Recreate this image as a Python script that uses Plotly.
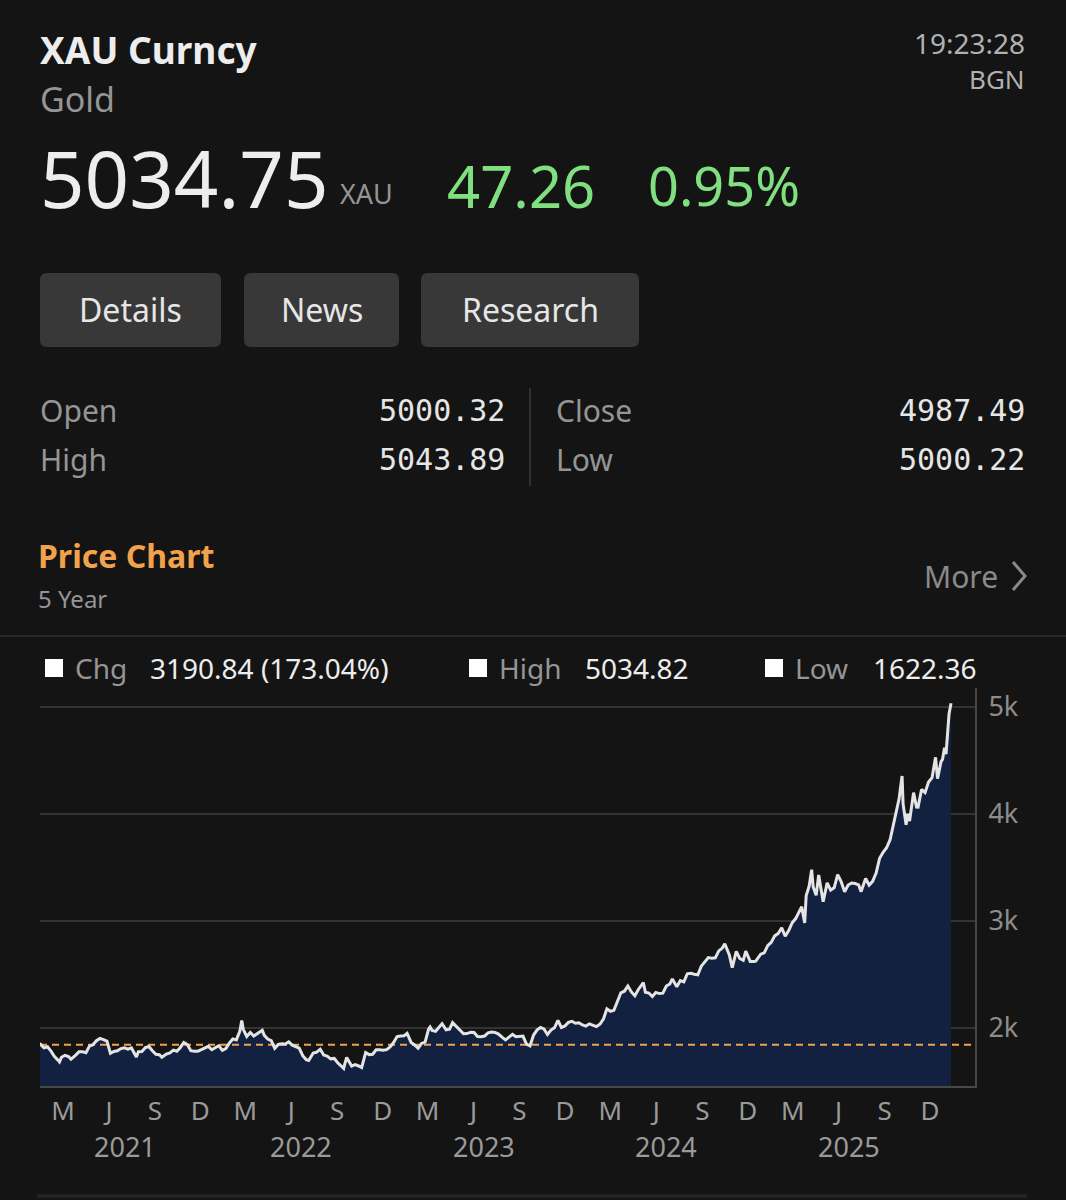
import plotly.graph_objects as go

# ---------------- data ----------------
dates = [
    "2021-01-27", "2021-01-29", "2021-02-05", "2021-02-12", "2021-02-19", "2021-02-26", "2021-03-05", "2021-03-08",
    "2021-03-12", "2021-03-19", "2021-03-26", "2021-03-31", "2021-04-09", "2021-04-16", "2021-04-23", "2021-04-30",
    "2021-05-07", "2021-05-14", "2021-05-21", "2021-05-28", "2021-06-04", "2021-06-11", "2021-06-18", "2021-06-25",
    "2021-07-02", "2021-07-09", "2021-07-16", "2021-07-23", "2021-07-30", "2021-08-06", "2021-08-09", "2021-08-13",
    "2021-08-20", "2021-08-27", "2021-09-03", "2021-09-10", "2021-09-17", "2021-09-24", "2021-09-29", "2021-10-08",
    "2021-10-15", "2021-10-22", "2021-10-29", "2021-11-05", "2021-11-12", "2021-11-19", "2021-11-26", "2021-12-03",
    "2021-12-10", "2021-12-17", "2021-12-24", "2021-12-31",
    "2022-01-07", "2022-01-14", "2022-01-21", "2022-01-28", "2022-02-04", "2022-02-11", "2022-02-18", "2022-02-25",
    "2022-03-04", "2022-03-08", "2022-03-11", "2022-03-18", "2022-03-25", "2022-04-01", "2022-04-08", "2022-04-18",
    "2022-04-22", "2022-04-29", "2022-05-06", "2022-05-13", "2022-05-20", "2022-05-27", "2022-06-03", "2022-06-10",
    "2022-06-17", "2022-06-24", "2022-07-01", "2022-07-08", "2022-07-15", "2022-07-20", "2022-07-29", "2022-08-05",
    "2022-08-12", "2022-08-19", "2022-08-26", "2022-09-02", "2022-09-09", "2022-09-16", "2022-09-23", "2022-09-28",
    "2022-09-30", "2022-10-04", "2022-10-14", "2022-10-21", "2022-10-28", "2022-11-03", "2022-11-11", "2022-11-18",
    "2022-11-25", "2022-12-02", "2022-12-09", "2022-12-16", "2022-12-23", "2022-12-30",
    "2023-01-06", "2023-01-13", "2023-01-20", "2023-01-27", "2023-02-02", "2023-02-10", "2023-02-17", "2023-02-24",
    "2023-03-03", "2023-03-10", "2023-03-17", "2023-03-20", "2023-03-24", "2023-03-31", "2023-04-07", "2023-04-13",
    "2023-04-21", "2023-04-28", "2023-05-04", "2023-05-12", "2023-05-19", "2023-05-26", "2023-06-02", "2023-06-09",
    "2023-06-16", "2023-06-23", "2023-06-30", "2023-07-07", "2023-07-14", "2023-07-21", "2023-07-28", "2023-08-04",
    "2023-08-11", "2023-08-18", "2023-08-25", "2023-09-01", "2023-09-08", "2023-09-15", "2023-09-22", "2023-09-29",
    "2023-10-06", "2023-10-13", "2023-10-20", "2023-10-27", "2023-11-03", "2023-11-10", "2023-11-17", "2023-11-24",
    "2023-12-01", "2023-12-08", "2023-12-15", "2023-12-22", "2023-12-29",
    "2024-01-05", "2024-01-12", "2024-01-19", "2024-01-26", "2024-02-02", "2024-02-09", "2024-02-16", "2024-02-23",
    "2024-03-01", "2024-03-08", "2024-03-15", "2024-03-22", "2024-03-28", "2024-04-05", "2024-04-12", "2024-04-19",
    "2024-04-26", "2024-05-03", "2024-05-10", "2024-05-20", "2024-05-24", "2024-05-31", "2024-06-07", "2024-06-14",
    "2024-06-21", "2024-06-28", "2024-07-05", "2024-07-12", "2024-07-17", "2024-07-26", "2024-08-02", "2024-08-09",
    "2024-08-16", "2024-08-23", "2024-08-30", "2024-09-06", "2024-09-13", "2024-09-20", "2024-09-27", "2024-10-04",
    "2024-10-11", "2024-10-18", "2024-10-25", "2024-10-30", "2024-11-08", "2024-11-14", "2024-11-22", "2024-11-29",
    "2024-12-06", "2024-12-11", "2024-12-20", "2024-12-27", "2024-12-31",
    "2025-01-10", "2025-01-17", "2025-01-24", "2025-01-31", "2025-02-07", "2025-02-14", "2025-02-21", "2025-02-28",
    "2025-03-07", "2025-03-14", "2025-03-21", "2025-03-28", "2025-04-02", "2025-04-08", "2025-04-11", "2025-04-17",
    "2025-04-22", "2025-04-25", "2025-05-01", "2025-05-06", "2025-05-15", "2025-05-23", "2025-05-30", "2025-06-06",
    "2025-06-13", "2025-06-20", "2025-06-27", "2025-07-04", "2025-07-11", "2025-07-18", "2025-07-25", "2025-07-30",
    "2025-08-08", "2025-08-15", "2025-08-22", "2025-08-29", "2025-09-05", "2025-09-12", "2025-09-19", "2025-09-26",
    "2025-10-01", "2025-10-08", "2025-10-14", "2025-10-17", "2025-10-20", "2025-10-22", "2025-10-28", "2025-10-31",
    "2025-11-04", "2025-11-12", "2025-11-18", "2025-11-21", "2025-11-28", "2025-12-05", "2025-12-12", "2025-12-19",
    "2025-12-26", "2025-12-30", "2026-01-06", "2026-01-09", "2026-01-13", "2026-01-16", "2026-01-20", "2026-01-22",
    "2026-01-26",
]
prices = [
    1844, 1848, 1814, 1824, 1784, 1734, 1700, 1683,
    1727, 1745, 1733, 1708, 1744, 1777, 1777, 1769,
    1831, 1843, 1881, 1903, 1891, 1877, 1764, 1781,
    1787, 1808, 1815, 1802, 1814, 1763, 1729, 1779,
    1781, 1817, 1827, 1788, 1754, 1750, 1726, 1757,
    1768, 1793, 1783, 1818, 1865, 1846, 1788, 1783,
    1783, 1798, 1811, 1829,
    1797, 1818, 1835, 1791, 1808, 1859, 1898, 1889,
    1970, 2070, 1988, 1921, 1958, 1925, 1947, 1979,
    1931, 1897, 1883, 1811, 1846, 1853, 1851, 1871,
    1840, 1827, 1811, 1742, 1703, 1696, 1766, 1775,
    1802, 1747, 1737, 1712, 1716, 1675, 1644, 1622,
    1660, 1725, 1644, 1657, 1645, 1630, 1771, 1751,
    1755, 1797, 1797, 1793, 1798, 1824,
    1865, 1920, 1926, 1928, 1950, 1865, 1842, 1811,
    1856, 1868, 1989, 2009, 1978, 1969, 2007, 2040,
    1983, 1990, 2050, 2011, 1978, 1946, 1948, 1961,
    1958, 1921, 1919, 1925, 1955, 1962, 1959, 1943,
    1914, 1889, 1915, 1940, 1919, 1924, 1925, 1849,
    1833, 1933, 1981, 2006, 1992, 1940, 1981, 2002,
    2072, 2004, 2019, 2053, 2063,
    2045, 2049, 2029, 2018, 2039, 2024, 2013, 2035,
    2083, 2179, 2156, 2165, 2230, 2329, 2344, 2392,
    2337, 2301, 2360, 2425, 2334, 2327, 2294, 2333,
    2322, 2326, 2392, 2411, 2459, 2386, 2443, 2431,
    2507, 2512, 2503, 2497, 2578, 2622, 2658, 2653,
    2656, 2721, 2747, 2788, 2685, 2565, 2716, 2650,
    2633, 2718, 2622, 2621, 2625,
    2690, 2703, 2770, 2800, 2861, 2883, 2936, 2858,
    2910, 2984, 3023, 3085, 3134, 2982, 3237, 3327,
    3480, 3319, 3240, 3430, 3180, 3357, 3289, 3310,
    3433, 3368, 3274, 3337, 3355, 3350, 3337, 3275,
    3398, 3336, 3371, 3448, 3586, 3643, 3685, 3760,
    3866, 4040, 4142, 4252, 4356, 4095, 3900, 4002,
    3935, 4200, 4066, 4065, 4230, 4200, 4300, 4340,
    4530, 4330, 4490, 4510, 4620, 4560, 4760, 4935,
    5034.75,
]
start_price = 1843.91

month_tick_dates = [
    "2021-03-15", "2021-06-15", "2021-09-15", "2021-12-15",
    "2022-03-15", "2022-06-15", "2022-09-15", "2022-12-15",
    "2023-03-15", "2023-06-15", "2023-09-15", "2023-12-15",
    "2024-03-15", "2024-06-15", "2024-09-15", "2024-12-15",
    "2025-03-15", "2025-06-15", "2025-09-15", "2025-12-15",
]
month_tick_text = ["M", "J", "S", "D"] * 5
year_labels = ["2021", "2022", "2023", "2024", "2025"]
year_label_dates = ["2021-07-17", "2022-07-05", "2023-07-05", "2024-07-05", "2025-07-05"]
y_tick_vals = [2000, 3000, 4000, 5000]
y_tick_text = ["2k", "3k", "4k", "5k"]

X_RANGE = ["2021-01-28", "2026-03-15"]
Y_RANGE = [1458, 5178]

# ---------------- layout helpers ----------------
W, H = 1066, 1200
BG = "#141414"
FONT = "Noto Sans, DejaVu Sans, sans-serif"
MONO = "DejaVu Sans Mono, Liberation Mono, monospace"


def px(x):
    return x / W


def py(y):
    return 1 - y / H


annotations = []
shapes = []


def text(s, x, y, size, color, anchor="left", family=FONT, weight="normal"):
    dx = -2 if anchor == "left" else (2 if anchor == "right" else 0)
    annotations.append(dict(
        text=s, x=px(x + dx), y=py(y), xref="paper", yref="paper",
        xanchor=anchor, yanchor="middle", showarrow=False,
        font=dict(size=size, color=color, family=family, weight=weight),
    ))


def rrect(x0, y0, x1, y1, r, color):
    p = (f"M {px(x0 + r)} {py(y0)} L {px(x1 - r)} {py(y0)} Q {px(x1)} {py(y0)} {px(x1)} {py(y0 + r)} "
         f"L {px(x1)} {py(y1 - r)} Q {px(x1)} {py(y1)} {px(x1 - r)} {py(y1)} "
         f"L {px(x0 + r)} {py(y1)} Q {px(x0)} {py(y1)} {px(x0)} {py(y1 - r)} "
         f"L {px(x0)} {py(y0 + r)} Q {px(x0)} {py(y0)} {px(x0 + r)} {py(y0)} Z")
    shapes.append(dict(type="path", path=p, xref="paper", yref="paper",
                       fillcolor=color, line=dict(width=0), layer="below"))


def hline(x0, x1, y, color, width):
    shapes.append(dict(type="line", x0=px(x0), x1=px(x1), y0=py(y), y1=py(y),
                       xref="paper", yref="paper", line=dict(color=color, width=width)))


def vline(x, y0, y1, color, width):
    shapes.append(dict(type="line", x0=px(x), x1=px(x), y0=py(y0), y1=py(y1),
                       xref="paper", yref="paper", line=dict(color=color, width=width)))


# ---------------- header ----------------
WHITE = "#ededed"
GRAY = "#959595"
GREEN = "#80e080"

text("XAU Curncy", 40, 50, 37, WHITE, weight="bold")
text("Gold", 40, 99, 34, GRAY)
text("5034.75", 40, 178, 78, WHITE)
text("XAU", 340, 193, 27, GRAY)
text("47.26", 447, 185, 58, GREEN)
text("0.95%", 648, 185, 54, GREEN)
text("19:23:28", 1025, 43, 28, "#b0b0b0", anchor="right")
text("BGN", 1025, 79, 26, "#b0b0b0", anchor="right")

for (x0, x1, label) in [(40, 221, "Details"), (244, 399, "News"), (421, 639, "Research")]:
    rrect(x0, 273, x1, 347, 7, "#383838")
    text(label, (x0 + x1) / 2, 310, 32, "#e6e6e6", anchor="center")

text("Open", 40, 410, 30, GRAY)
text("5000.32", 505, 410, 30, "#e6e6e6", anchor="right", family=MONO)
text("Close", 556, 410, 30, GRAY)
text("4987.49", 1025, 410, 30, "#e6e6e6", anchor="right", family=MONO)
text("High", 40, 460, 30, GRAY)
text("5043.89", 505, 460, 30, "#e6e6e6", anchor="right", family=MONO)
text("Low", 556, 460, 30, GRAY)
text("5000.22", 1025, 460, 30, "#e6e6e6", anchor="right", family=MONO)
vline(530, 388, 486, "#303030", 2)

text("Price Chart", 38, 555, 32, "#f2a24c", weight="bold")
text("5 Year", 38, 598, 24, GRAY)
text("More", 924, 576, 30, "#8a8a8a")
shapes.append(dict(type="path", xref="paper", yref="paper",
                   path=f"M {px(1013)} {py(562)} L {px(1025)} {py(576)} L {px(1013)} {py(590)}",
                   line=dict(color="#8a8a8a", width=3)))
hline(0, W, 636, "#272727", 2)

# legend row
for (sx, lab, lx, val, vx) in [(45, "Chg", 75, "3190.84 (173.04%)", 150),
                                (469, "High", 499, "5034.82", 585),
                                (765, "Low", 795, "1622.36", 873)]:
    shapes.append(dict(type="rect", xref="paper", yref="paper",
                       x0=px(sx), x1=px(sx + 18), y0=py(659), y1=py(677),
                       fillcolor="#ffffff", line=dict(width=0)))
    text(lab, lx, 668, 28, GRAY)
    text(val, vx, 668, 28, WHITE)

hline(37, 1027, 1196, "#262626", 3)

# ---------------- chart ----------------
fig = go.Figure()
fig.add_trace(go.Scatter(x=dates, y=prices, mode="lines", line=dict(width=0),
                         fill="tozeroy", fillcolor="#12213f", hoverinfo="skip"))
fig.add_trace(go.Scatter(x=X_RANGE, y=[start_price, start_price], mode="lines",
                         line=dict(color="#f2a24c", width=2, dash="7px,5px"), hoverinfo="skip"))
fig.add_trace(go.Scatter(x=dates, y=prices, mode="lines",
                         line=dict(color="#e4e4e4", width=3), hoverinfo="skip"))

for lab, d in zip(year_labels, year_label_dates):
    annotations.append(dict(text=lab, x=d, xref="x", y=py(1146), yref="paper",
                            xanchor="center", yanchor="middle", showarrow=False,
                            font=dict(size=27, color="#9a9a9a", family=FONT)))

fig.update_layout(
    width=W, height=H,
    margin=dict(l=0, r=0, t=0, b=0),
    paper_bgcolor=BG, plot_bgcolor=BG,
    showlegend=False,
    font=dict(family=FONT),
    xaxis=dict(
        type="date", range=X_RANGE, domain=[px(40), px(975)],
        tickmode="array", tickvals=month_tick_dates, ticktext=month_tick_text,
        tickfont=dict(size=26, color="#9a9a9a", family=FONT),
        showgrid=False, zeroline=False,
        showline=True, linecolor="#474747", linewidth=2,
        ticks="outside", ticklen=1, tickcolor="rgba(0,0,0,0)",
        fixedrange=True,
    ),
    yaxis=dict(
        range=Y_RANGE, domain=[py(1086), py(688)], side="right",
        tickmode="array", tickvals=y_tick_vals, ticktext=y_tick_text,
        tickfont=dict(size=27, color="#8c8c8c", family=FONT),
        showgrid=True, gridcolor="#333333", gridwidth=2, zeroline=False,
        showline=True, linecolor="#474747", linewidth=2,
        ticks="outside", ticklen=6, tickcolor="rgba(0,0,0,0)",
        fixedrange=True,
    ),
    annotations=annotations,
    shapes=shapes,
)

fig.write_html("out.html", config={"displayModeBar": False})
